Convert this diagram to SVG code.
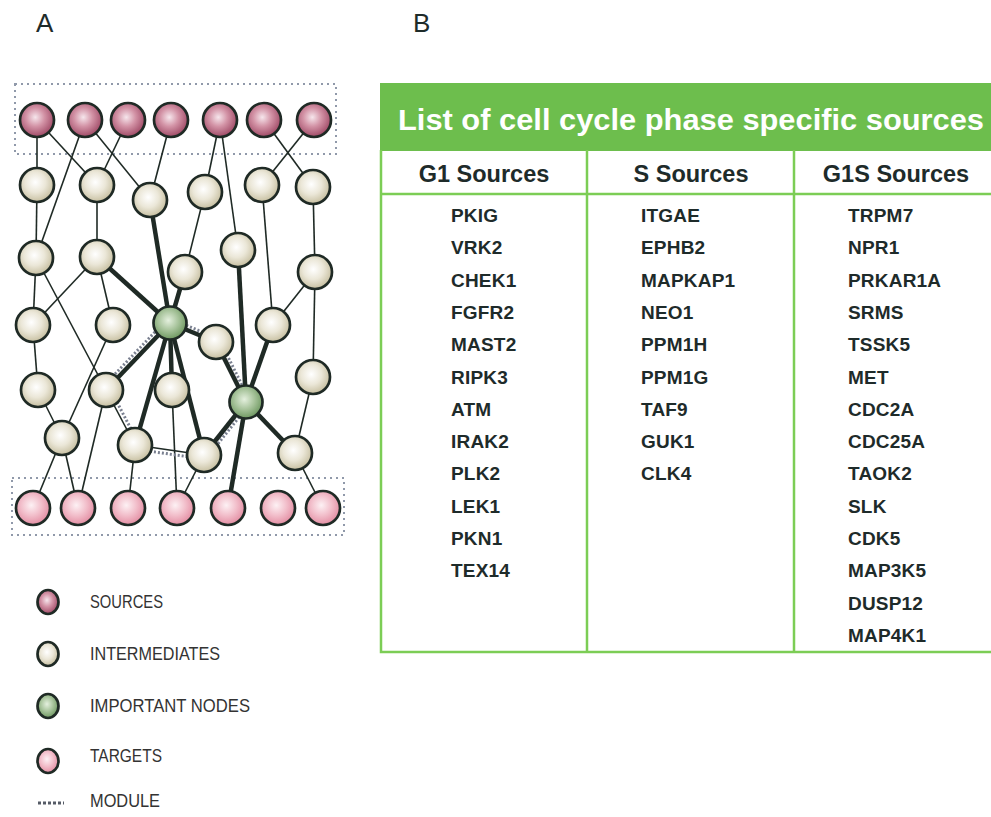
<svg xmlns="http://www.w3.org/2000/svg" width="991" height="817" viewBox="0 0 991 817">
  <defs>
    <radialGradient id="gSrc" cx="0.45" cy="0.42" r="0.6">
      <stop offset="0" stop-color="#f6e6ec"/>
      <stop offset="0.45" stop-color="#d393a6"/>
      <stop offset="1" stop-color="#9c4562"/>
    </radialGradient>
    <radialGradient id="gInt" cx="0.45" cy="0.42" r="0.6">
      <stop offset="0" stop-color="#ffffff"/>
      <stop offset="0.5" stop-color="#ebe7d8"/>
      <stop offset="1" stop-color="#c4bc9c"/>
    </radialGradient>
    <radialGradient id="gImp" cx="0.45" cy="0.42" r="0.6">
      <stop offset="0" stop-color="#e4f0de"/>
      <stop offset="0.5" stop-color="#a8c49c"/>
      <stop offset="1" stop-color="#6a955c"/>
    </radialGradient>
    <radialGradient id="gTgt" cx="0.45" cy="0.42" r="0.6">
      <stop offset="0" stop-color="#fdf1f4"/>
      <stop offset="0.5" stop-color="#f2bfcb"/>
      <stop offset="1" stop-color="#e28aa0"/>
    </radialGradient>
    <style>
      .lbl { font-family: "Liberation Sans", Arial, sans-serif; fill: #1e2b2a; }
      .panel { font-size: 26px; }
      .leg { font-size: 18.5px; fill: #333; }
      .title { font-size: 30px; font-weight: bold; fill: #ffffff; }
      .head { font-size: 23.5px; font-weight: bold; }
      .item { font-size: 19px; font-weight: bold; letter-spacing: 0.2px; }
      .node circle, .key { stroke: #1f2a25; stroke-width: 2.7; }
      .src { fill: url(#gSrc); }
      .int { fill: url(#gInt); }
      .imp { fill: url(#gImp); }
      .tgt { fill: url(#gTgt); }
      .thin { stroke: #1f2a25; stroke-width: 1.6; }
      .thick { stroke: #1f2a25; stroke-width: 4.5; }
      .mod { stroke: #7a8090; stroke-width: 3; stroke-dasharray: 2 2; fill: none; }
      .box { stroke: #9099aa; stroke-width: 2; stroke-dasharray: 2 4; fill: none; }
      .grid { stroke: #7ccd55; stroke-width: 2.5; fill: none; }
    </style>
  </defs>

  <rect width="991" height="817" fill="#ffffff"/>

  <!-- panel letters -->
  <text class="lbl panel" x="36" y="32">A</text>
  <text class="lbl panel" x="413" y="32">B</text>

  <!-- module boxes around sources and targets -->
  <rect class="box" x="15" y="84" width="321" height="70"/>
  <rect class="box" x="12" y="478" width="332" height="57"/>

  <!-- connectors -->
  <g id="edges">
    <g class="thin">
      <line x1="37" y1="120" x2="37" y2="185"/>
      <line x1="37" y1="120" x2="97" y2="185"/>
      <line x1="85" y1="120" x2="36" y2="258"/>
      <line x1="85" y1="120" x2="150" y2="200"/>
      <line x1="128" y1="120" x2="97" y2="185"/>
      <line x1="171" y1="120" x2="150" y2="200"/>
      <line x1="220" y1="120" x2="205" y2="192"/>
      <line x1="220" y1="120" x2="238" y2="250"/>
      <line x1="264" y1="120" x2="313" y2="187"/>
      <line x1="314" y1="120" x2="262" y2="185"/>
      <line x1="37" y1="185" x2="36" y2="258"/>
      <line x1="97" y1="185" x2="97" y2="257"/>
      <line x1="205" y1="192" x2="185" y2="272"/>
      <line x1="262" y1="185" x2="273" y2="325"/>
      <line x1="313" y1="187" x2="315" y2="272"/>
      <line x1="36" y1="258" x2="33" y2="325"/>
      <line x1="36" y1="258" x2="106" y2="390"/>
      <line x1="97" y1="257" x2="33" y2="325"/>
      <line x1="97" y1="257" x2="113" y2="325"/>
      <line x1="315" y1="272" x2="273" y2="325"/>
      <line x1="315" y1="272" x2="313" y2="377"/>
      <line x1="33" y1="325" x2="38" y2="390"/>
      <line x1="113" y1="325" x2="62" y2="438"/>
      <line x1="38" y1="390" x2="62" y2="438"/>
      <line x1="106" y1="390" x2="135" y2="445"/>
      <line x1="106" y1="390" x2="78" y2="508"/>
      <line x1="172" y1="390" x2="177" y2="508"/>
      <line x1="135" y1="445" x2="204" y2="455"/>
      <line x1="135" y1="445" x2="128" y2="508"/>
      <line x1="204" y1="455" x2="177" y2="508"/>
      <line x1="62" y1="438" x2="33" y2="508"/>
      <line x1="62" y1="438" x2="78" y2="508"/>
      <line x1="313" y1="377" x2="295" y2="453"/>
      <line x1="295" y1="453" x2="323" y2="508"/>
    </g>
    <g class="thick">
      <line x1="150" y1="200" x2="170" y2="323"/>
      <line x1="97" y1="257" x2="170" y2="323"/>
      <line x1="185" y1="272" x2="170" y2="323"/>
      <line x1="238" y1="250" x2="246" y2="402"/>
      <line x1="170" y1="323" x2="216" y2="342"/>
      <line x1="170" y1="323" x2="106" y2="390"/>
      <line x1="170" y1="323" x2="135" y2="445"/>
      <line x1="170" y1="323" x2="172" y2="390"/>
      <line x1="170" y1="323" x2="204" y2="455"/>
      <line x1="216" y1="342" x2="246" y2="402"/>
      <line x1="273" y1="325" x2="246" y2="402"/>
      <line x1="246" y1="402" x2="204" y2="455"/>
      <line x1="246" y1="402" x2="228" y2="508"/>
      <line x1="246" y1="402" x2="295" y2="453"/>
    </g>
    <!-- module path drawn beside its edges -->
    <g class="mod">
      <line x1="155" y1="332" x2="114.5" y2="374.6"/>
      <line x1="186.3" y1="325.4" x2="202.7" y2="332.2"/>
      <line x1="226.8" y1="354.5" x2="242.4" y2="385.9"/>
      <line x1="239.2" y1="417" x2="217" y2="445"/>
      <line x1="187.6" y1="456.7" x2="150.2" y2="451.3"/>
      <line x1="117" y1="402.2" x2="131" y2="429"/>
    </g>
  </g>

  <!-- sources -->
  <g id="s1" class="node"><circle class="src" cx="37" cy="120" r="17"/></g>
  <g id="s2" class="node"><circle class="src" cx="85" cy="120" r="17"/></g>
  <g id="s3" class="node"><circle class="src" cx="128" cy="120" r="17"/></g>
  <g id="s4" class="node"><circle class="src" cx="171" cy="120" r="17"/></g>
  <g id="s5" class="node"><circle class="src" cx="220" cy="120" r="17"/></g>
  <g id="s6" class="node"><circle class="src" cx="264" cy="120" r="17"/></g>
  <g id="s7" class="node"><circle class="src" cx="314" cy="120" r="17"/></g>

  <!-- intermediates -->
  <g id="i1" class="node"><circle class="int" cx="37" cy="185" r="17"/></g>
  <g id="i2" class="node"><circle class="int" cx="97" cy="185" r="17"/></g>
  <g id="i3" class="node"><circle class="int" cx="150" cy="200" r="17"/></g>
  <g id="i4" class="node"><circle class="int" cx="205" cy="192" r="17"/></g>
  <g id="i5" class="node"><circle class="int" cx="262" cy="185" r="17"/></g>
  <g id="i6" class="node"><circle class="int" cx="313" cy="187" r="17"/></g>
  <g id="i7" class="node"><circle class="int" cx="36" cy="258" r="17"/></g>
  <g id="i8" class="node"><circle class="int" cx="97" cy="257" r="17"/></g>
  <g id="i9" class="node"><circle class="int" cx="185" cy="272" r="17"/></g>
  <g id="i10" class="node"><circle class="int" cx="238" cy="250" r="17"/></g>
  <g id="i11" class="node"><circle class="int" cx="315" cy="272" r="17"/></g>
  <g id="i12" class="node"><circle class="int" cx="33" cy="325" r="17"/></g>
  <g id="i13" class="node"><circle class="int" cx="113" cy="325" r="17"/></g>
  <g id="i14" class="node"><circle class="int" cx="216" cy="342" r="17"/></g>
  <g id="i15" class="node"><circle class="int" cx="273" cy="325" r="17"/></g>
  <g id="i16" class="node"><circle class="int" cx="38" cy="390" r="17"/></g>
  <g id="i17" class="node"><circle class="int" cx="106" cy="390" r="17"/></g>
  <g id="i18" class="node"><circle class="int" cx="172" cy="390" r="17"/></g>
  <g id="i19" class="node"><circle class="int" cx="313" cy="377" r="17"/></g>
  <g id="i20" class="node"><circle class="int" cx="62" cy="438" r="17"/></g>
  <g id="i21" class="node"><circle class="int" cx="135" cy="445" r="17"/></g>
  <g id="i22" class="node"><circle class="int" cx="204" cy="455" r="17"/></g>
  <g id="i23" class="node"><circle class="int" cx="295" cy="453" r="17"/></g>

  <!-- important nodes -->
  <g id="hub1" class="node"><circle class="imp" cx="170" cy="323" r="16.5"/></g>
  <g id="hub2" class="node"><circle class="imp" cx="246" cy="402" r="16.5"/></g>

  <!-- targets -->
  <g id="t1" class="node"><circle class="tgt" cx="33" cy="508" r="17"/></g>
  <g id="t2" class="node"><circle class="tgt" cx="78" cy="508" r="17"/></g>
  <g id="t3" class="node"><circle class="tgt" cx="128" cy="508" r="17"/></g>
  <g id="t4" class="node"><circle class="tgt" cx="177" cy="508" r="17"/></g>
  <g id="t5" class="node"><circle class="tgt" cx="228" cy="508" r="17"/></g>
  <g id="t6" class="node"><circle class="tgt" cx="278" cy="508" r="17"/></g>
  <g id="t7" class="node"><circle class="tgt" cx="323" cy="508" r="17"/></g>

  <!-- legend -->
  <g id="legend">
    <ellipse class="key src" cx="48" cy="602" rx="10.5" ry="12"/>
    <text class="lbl leg" x="90" y="608" textLength="73" lengthAdjust="spacingAndGlyphs">SOURCES</text>
    <ellipse class="key int" cx="48" cy="654" rx="10.5" ry="12"/>
    <text class="lbl leg" x="90" y="660" textLength="130" lengthAdjust="spacingAndGlyphs">INTERMEDIATES</text>
    <ellipse class="key imp" cx="48" cy="706" rx="10.5" ry="12"/>
    <text class="lbl leg" x="90" y="712" textLength="160" lengthAdjust="spacingAndGlyphs">IMPORTANT NODES</text>
    <ellipse class="key tgt" cx="48" cy="761" rx="10.5" ry="12"/>
    <text class="lbl leg" x="90" y="762" textLength="72" lengthAdjust="spacingAndGlyphs">TARGETS</text>
    <line x1="38" y1="803" x2="64" y2="803" stroke="#555b66" stroke-width="3" stroke-dasharray="3 2"/>
    <text class="lbl leg" x="90" y="807" textLength="70" lengthAdjust="spacingAndGlyphs">MODULE</text>
  </g>

  <!-- source table -->
  <g id="table">
    <rect x="380" y="83" width="615" height="68" fill="#6dbe4d"/>
    <text class="lbl title" x="398" y="130" textLength="586" lengthAdjust="spacingAndGlyphs">List of cell cycle phase specific sources</text>
    <path class="grid" d="M381 150 V652 H995 M381 194 H995 M587 150 V652 M794 150 V652"/>
    <text class="lbl head" x="484" y="182" text-anchor="middle">G1 Sources</text>
    <text class="lbl head" x="691" y="182" text-anchor="middle">S Sources</text>
    <text class="lbl head" x="896" y="182" text-anchor="middle">G1S Sources</text>

    <g class="lbl item">
      <text x="451" y="222">PKIG</text>
      <text x="451" y="254.3">VRK2</text>
      <text x="451" y="286.6">CHEK1</text>
      <text x="451" y="318.9">FGFR2</text>
      <text x="451" y="351.2">MAST2</text>
      <text x="451" y="383.5">RIPK3</text>
      <text x="451" y="415.8">ATM</text>
      <text x="451" y="448.1">IRAK2</text>
      <text x="451" y="480.4">PLK2</text>
      <text x="451" y="512.7">LEK1</text>
      <text x="451" y="545">PKN1</text>
      <text x="451" y="577.3">TEX14</text>

      <text x="641" y="222">ITGAE</text>
      <text x="641" y="254.3">EPHB2</text>
      <text x="641" y="286.6">MAPKAP1</text>
      <text x="641" y="318.9">NEO1</text>
      <text x="641" y="351.2">PPM1H</text>
      <text x="641" y="383.5">PPM1G</text>
      <text x="641" y="415.8">TAF9</text>
      <text x="641" y="448.1">GUK1</text>
      <text x="641" y="480.4">CLK4</text>

      <text x="848" y="222">TRPM7</text>
      <text x="848" y="254.3">NPR1</text>
      <text x="848" y="286.6">PRKAR1A</text>
      <text x="848" y="318.9">SRMS</text>
      <text x="848" y="351.2">TSSK5</text>
      <text x="848" y="383.5">MET</text>
      <text x="848" y="415.8">CDC2A</text>
      <text x="848" y="448.1">CDC25A</text>
      <text x="848" y="480.4">TAOK2</text>
      <text x="848" y="512.7">SLK</text>
      <text x="848" y="545">CDK5</text>
      <text x="848" y="577.3">MAP3K5</text>
      <text x="848" y="609.6">DUSP12</text>
      <text x="848" y="641.9">MAP4K1</text>
    </g>
  </g>
</svg>
